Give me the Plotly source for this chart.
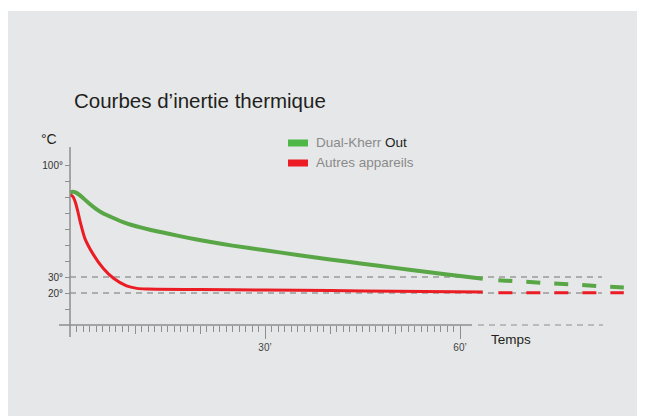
import plotly.graph_objects as go

# ---------------- data ----------------
green_t = [0, 0.5, 1, 1.5, 2, 3, 4, 5, 6.2, 8.7, 12.3, 15, 18, 21, 25, 30, 35, 40, 45, 50, 55, 60, 63.5]
green_v = [83.0, 83.3, 82.6, 81.2, 79.4, 75.8, 72.6, 70.0, 67.7, 63.5, 59.5, 57.2, 54.6, 52.3, 49.6, 46.7, 43.8, 41.0, 38.3, 35.7, 33.1, 30.6, 28.9]
green_ext_t = [65.9, 85.2]
green_ext_v = [28.0, 23.4]

red_t = [0, 0.4, 0.8, 1.2, 1.6, 2.3, 3.6, 5.1, 6.7, 8.7, 10.3, 12, 20, 30, 40, 50, 63.5]
red_v = [81.3, 80.5, 77, 71, 64, 54, 44, 35.5, 29.2, 24.4, 22.9, 22.5, 22.2, 21.9, 21.5, 21.1, 20.6]
red_ext_t = [65.9, 85.2]
red_ext_v = [20.2, 20.2]

ref_levels = [30, 20]
y_tick_vals = [10, 20, 30, 40, 50, 60, 70, 80, 90, 100]
y_tick_text = ["", "20°", "30°", "", "", "", "", "", "", "100°"]
x_minor_vals = [m for m in range(1, 61) if m % 10 != 0]
x_mid_vals = [10, 20, 30, 40, 50, 60]
x_major_vals = [30, 60]
x_major_text = ["30’", "60’"]

series_names = ["Dual-Kherr <span style='color:#231f20'>Out</span>", "Autres appareils"]
title_text = "Courbes d’inertie thermique"

# ---------------- geometry (page pixels; the figure div sits 8px in) ----------------
OFF = 8
W, H = 645, 416
ML, MT = 42, 112
PW, PH = 590, 245
MR, MB = W - ML - PW, H - MT - PH
T0_PX, V0_PY = 70, 325          # page pixel of t=0 and of 0 deg
PX_PER_MIN, PX_PER_DEG = 6.5, 1.6


def px2t(px):
    return (px - T0_PX) / PX_PER_MIN


def py2v(py):
    return (V0_PY - py) / PX_PER_DEG


def pxp(px):
    return (px - OFF - ML) / PW


def pyp(py):
    return (OFF + MT + PH - py) / PH


X_LEFT_PX, X_RIGHT_PX = OFF + ML, OFF + ML + PW
Y_TOP_PX, Y_BOT_PX = OFF + MT, OFF + MT + PH

GREEN = "#58a646"
GREEN_SW = "#4db748"
RED = "#ec1c24"
AXIS = "#8e8e8e"
DASHG = "#9a9a9a"
BG = "#e6e7e8"
FONT = "Liberation Sans, Arial, sans-serif"

fig = go.Figure()

fig.add_trace(go.Scatter(x=green_t, y=green_v, mode="lines",
                         line=dict(color=GREEN, width=4, shape="spline", smoothing=0.8),
                         showlegend=False, hoverinfo="skip"))
fig.add_trace(go.Scatter(x=green_ext_t, y=green_ext_v, mode="lines",
                         line=dict(color=GREEN, width=4, dash="14px,14px"),
                         showlegend=False, hoverinfo="skip"))
fig.add_trace(go.Scatter(x=red_t, y=red_v, mode="lines",
                         line=dict(color=RED, width=3, shape="spline", smoothing=0.8),
                         showlegend=False, hoverinfo="skip"))
fig.add_trace(go.Scatter(x=red_ext_t, y=red_ext_v, mode="lines",
                         line=dict(color=RED, width=3, dash="14px,14px"),
                         showlegend=False, hoverinfo="skip"))
# invisible trace to activate xaxis2 (long ticks + labels)
fig.add_trace(go.Scatter(x=[x_major_vals[0]], y=[None], xaxis="x2", mode="lines",
                         showlegend=False, hoverinfo="skip"))

shapes = []
# white top strip
shapes.append(dict(type="rect", xref="paper", yref="paper", x0=pxp(0), x1=pxp(700), y0=pyp(0), y1=pyp(11),
                   fillcolor="white", line=dict(width=0), layer="below"))
# reference dashed lines
for lv in ref_levels:
    shapes.append(dict(type="line", xref="x", yref="y", x0=0, x1=px2t(602), y0=lv, y1=lv,
                       line=dict(color=DASHG, width=1.5, dash="6px,5px"), layer="below"))
# y axis line
shapes.append(dict(type="line", xref="x", yref="y", x0=0, x1=0, y0=py2v(337), y1=py2v(147),
                   line=dict(color=AXIS, width=1.5)))
# x axis line solid and dashed continuation
shapes.append(dict(type="line", xref="x", yref="y", x0=px2t(59), x1=px2t(472), y0=0, y1=0,
                   line=dict(color=AXIS, width=1.5)))
shapes.append(dict(type="line", xref="x", yref="y", x0=px2t(478), x1=px2t(603), y0=0, y1=0,
                   line=dict(color=AXIS, width=1.2, dash="6px,5px")))
# legend swatches
shapes.append(dict(type="rect", xref="paper", yref="paper", x0=pxp(288), x1=pxp(308), y0=pyp(146.5), y1=pyp(139.5),
                   fillcolor=GREEN_SW, line=dict(width=0)))
shapes.append(dict(type="rect", xref="paper", yref="paper", x0=pxp(288), x1=pxp(308), y0=pyp(166.5), y1=pyp(159.5),
                   fillcolor=RED, line=dict(width=0)))

annotations = [
    dict(text=title_text, xref="paper", yref="paper", x=pxp(72), y=pyp(101), xanchor="left", yanchor="middle",
         showarrow=False, font=dict(family=FONT, size=20.5, color="#231f20")),
    dict(text=series_names[0], xref="paper", yref="paper", x=pxp(314), y=pyp(142), xanchor="left", yanchor="middle",
         showarrow=False, font=dict(family=FONT, size=13.5, color="#8a8a8a")),
    dict(text=series_names[1], xref="paper", yref="paper", x=pxp(314), y=pyp(162), xanchor="left", yanchor="middle",
         showarrow=False, font=dict(family=FONT, size=13.5, color="#8a8a8a")),
    dict(text="°C", xref="paper", yref="paper", x=pxp(39), y=pyp(139), xanchor="left", yanchor="middle",
         showarrow=False, font=dict(family=FONT, size=14, color="#231f20")),
    dict(text="Temps", xref="paper", yref="paper", x=pxp(489), y=pyp(339), xanchor="left", yanchor="middle",
         showarrow=False, font=dict(family=FONT, size=13.5, color="#231f20")),
]

fig.update_layout(
    width=W, height=H, autosize=False,
    margin=dict(l=ML, r=MR, t=MT, b=MB, pad=0),
    paper_bgcolor=BG, plot_bgcolor="rgba(0,0,0,0)",
    showlegend=False,
    shapes=shapes, annotations=annotations,
    font=dict(family=FONT),
    xaxis=dict(range=[px2t(X_LEFT_PX), px2t(X_RIGHT_PX)], anchor="free", position=pyp(V0_PY),
               showgrid=False, zeroline=False, showline=False,
               tickmode="array", tickvals=x_mid_vals, ticktext=[""] * len(x_mid_vals),
               ticks="outside", ticklen=7.5, tickwidth=1, tickcolor=AXIS,
               minor=dict(tickmode="array", tickvals=x_minor_vals, ticks="outside", ticklen=5.5,
                          tickwidth=1, tickcolor=AXIS, showgrid=False),
               fixedrange=True),
    xaxis2=dict(range=[px2t(X_LEFT_PX), px2t(X_RIGHT_PX)], overlaying="x", anchor="free", position=pyp(V0_PY),
                showgrid=False, zeroline=False, showline=False,
                tickmode="array", tickvals=x_major_vals, ticktext=x_major_text,
                ticks="outside", ticklen=13, tickwidth=1, tickcolor=AXIS, side="bottom",
                tickfont=dict(family=FONT, size=10, color="#444444")),
    yaxis=dict(range=[py2v(Y_BOT_PX), py2v(Y_TOP_PX)], anchor="free", position=pxp(T0_PX),
               showgrid=False, zeroline=False, showline=False,
               tickmode="array", tickvals=y_tick_vals, ticktext=y_tick_text,
               ticks="outside", ticklen=5, tickwidth=1, tickcolor=AXIS,
               tickfont=dict(family=FONT, size=10, color="#333333"),
               fixedrange=True),
)

fig.write_html("out.html")
